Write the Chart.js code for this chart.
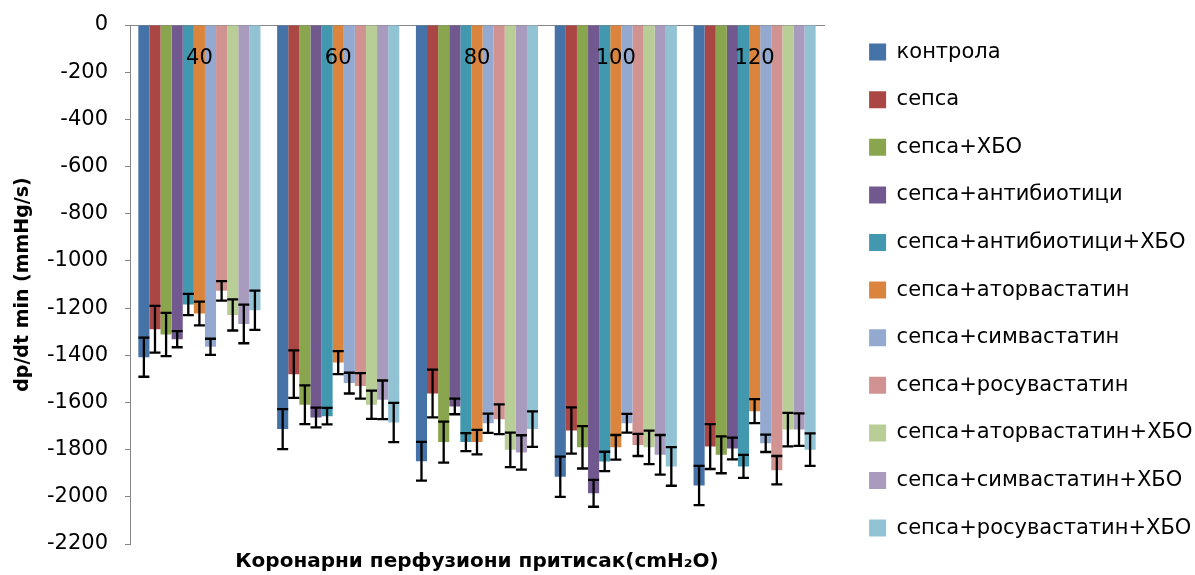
<!DOCTYPE html>
<html>
<head>
<meta charset="utf-8">
<script src="https://cdn.jsdelivr.net/npm/chart.js@4.4.1/dist/chart.umd.min.js"></script>
<style>
  html, body { margin: 0; padding: 0; background: #fff; overflow: hidden; }
  canvas { display: block; }
</style>
</head>
<body>
<canvas id="dpdt-chart" width="1195" height="575"></canvas>
<script>
// coronary perfusion pressures (cmH2O)
const pressures = ['40', '60', '80', '100', '120'];

const groupNames = [
  'контрола', 'сепса', 'сепса+ХБО', 'сепса+антибиотици', 'сепса+антибиотици+ХБО',
  'сепса+аторвастатин', 'сепса+симвастатин', 'сепса+росувастатин',
  'сепса+аторвастатин+ХБО', 'сепса+симвастатин+ХБО', 'сепса+росувастатин+ХБО'
];
const groupColors = [
  '#4572A7', '#AA4643', '#89A54E', '#71588F', '#4198AF',
  '#DB843D', '#93A9CF', '#D19392', '#B9CD96', '#A99BBD', '#92C3D5'
];

// mean dp/dt min per group
const kontrola      = [-1408, -1713, -1849, -1915, -1952];
const sepsa         = [-1290, -1480, -1562, -1719, -1787];
const sepsaHbo      = [-1312, -1610, -1768, -1790, -1822];
const antib         = [-1332, -1664, -1617, -1985, -1795];
const antibHbo      = [-1185, -1658, -1768, -1850, -1871];
const atorva        = [-1223, -1431, -1768, -1790, -1637];
const simva         = [-1364, -1518, -1688, -1688, -1773];
const rosuva        = [-1127, -1530, -1671, -1780, -1887];
const atorvaHbo     = [-1229, -1610, -1801, -1790, -1715];
const simvaHbo      = [-1267, -1589, -1812, -1822, -1715];
const rosuvaHbo     = [-1209, -1685, -1713, -1871, -1800];

// error (± SE) per group
const kontrolaErr   = [83, 85, 82, 85, 83];
const sepsaErr      = [99, 101, 101, 98, 95];
const sepsaHboErr   = [92, 82, 87, 90, 78];
const antibErr      = [34, 42, 33, 57, 46];
const antibHboErr   = [45, 35, 38, 41, 49];
const atorvaErr     = [50, 49, 52, 52, 51];
const simvaErr      = [34, 44, 41, 40, 37];
const rosuvaErr     = [41, 54, 63, 47, 60];
const atorvaHboErr  = [66, 60, 73, 71, 71];
const simvaHboErr   = [82, 82, 73, 84, 69];
const rosuvaHboErr  = [83, 83, 75, 82, 69];

const yMin = -2200, yMax = 0, yStep = 200;

const allValues = [kontrola, sepsa, sepsaHbo, antib, antibHbo, atorva, simva, rosuva, atorvaHbo, simvaHbo, rosuvaHbo];
const allErrors = [kontrolaErr, sepsaErr, sepsaHboErr, antibErr, antibHboErr, atorvaErr, simvaErr, rosuvaErr, atorvaHboErr, simvaHboErr, rosuvaHboErr];

const FONT = 'DejaVu Sans';
const axisGray = '#868686';

Chart.defaults.font.family = FONT;
Chart.defaults.color = '#000';

// category labels sit just under the zero line, on top of the bars
const zeroLineLabels = {
  id: 'zeroLineLabels',
  afterDatasetsDraw(chart) {
    const ctx = chart.ctx;
    const xScale = chart.scales.x;
    const y0 = chart.scales.y.getPixelForValue(0);
    ctx.save();
    ctx.font = '21px "' + FONT + '"';
    ctx.fillStyle = '#000';
    ctx.textAlign = 'center';
    ctx.textBaseline = 'middle';
    chart.data.labels.forEach((lbl, i) => {
      ctx.fillText(lbl, xScale.getPixelForValue(i), y0 + 34);
    });
    ctx.restore();
  }
};

// draws the ± error whiskers on every bar
const errorBars = {
  id: 'errorBars',
  afterDatasetsDraw(chart) {
    const ctx = chart.ctx;
    const yScale = chart.scales.y;
    ctx.save();
    ctx.strokeStyle = '#000';
    ctx.lineWidth = 2.3;
    chart.data.datasets.forEach((ds, i) => {
      chart.getDatasetMeta(i).data.forEach((bar, j) => {
        const top = yScale.getPixelForValue(ds.data[j] + ds.errors[j]);
        const bottom = yScale.getPixelForValue(ds.data[j] - ds.errors[j]);
        const cap = 5.5;
        ctx.beginPath();
        ctx.moveTo(bar.x, top);
        ctx.lineTo(bar.x, bottom);
        ctx.moveTo(bar.x - cap, top);
        ctx.lineTo(bar.x + cap, top);
        ctx.moveTo(bar.x - cap, bottom);
        ctx.lineTo(bar.x + cap, bottom);
        ctx.stroke();
      });
    });
    ctx.restore();
  }
};

const ctx = document.getElementById('dpdt-chart').getContext('2d');

new Chart(ctx, {
  type: 'bar',
  data: {
    labels: pressures,
    datasets: groupNames.map((name, i) => ({
      label: name,
      data: allValues[i],
      errors: allErrors[i],
      backgroundColor: groupColors[i],
      borderWidth: 0,
      categoryPercentage: 0.88,
      barPercentage: 1.0
    }))
  },
  options: {
    responsive: false,
    animation: false,
    events: [],
    layout: {
      padding: { top: 15, left: 12, right: 0, bottom: 1 }
    },
    plugins: {
      tooltip: { enabled: false },
      legend: {
        position: 'right',
        align: 'start',
        maxWidth: 352.5,
        labels: {
          boxWidth: 17,
          boxHeight: 17,
          padding: 26.6,
          color: '#000',
          font: { family: FONT, size: 21 }
        }
      }
    },
    scales: {
      x: {
        type: 'category',
        position: { y: 0 },
        grid: { display: true, drawOnChartArea: false, drawTicks: false },
        border: { display: true, color: axisGray, width: 1 },
        ticks: { display: false }
      },
      xTitle: {
        type: 'category',
        position: 'bottom',
        labels: pressures,
        grid: { display: false, drawTicks: false },
        border: { display: false },
        ticks: { display: false },
        title: {
          display: true,
          text: 'Коронарни перфузиони притисак(cmH₂O)',
          color: '#000',
          font: { family: FONT, size: 20, weight: 'bold' },
          padding: { top: 2, bottom: 0.5 }
        },
        afterFit: s => { s.height = 30; }
      },
      y: {
        min: yMin,
        max: yMax,
        ticks: {
          stepSize: yStep,
          padding: 17,
          color: '#000',
          font: { family: FONT, size: 21 },
          callback: v => String(v)
        },
        grid: { display: true, drawOnChartArea: false, drawTicks: true, tickLength: 5, color: axisGray },
        border: { display: true, color: axisGray, width: 1 },
        title: {
          display: true,
          text: 'dp/dt min (mmHg/s)',
          color: '#000',
          font: { family: FONT, size: 19, weight: 'bold' },
          padding: { top: 0, bottom: 0 }
        },
        afterFit: s => {
          s.width = 118;
          s.paddingTop = 25;
          s.paddingBottom = 0;
        }
      },
      yRight: {
        type: 'linear',
        position: 'right',
        grid: { display: false, drawTicks: false },
        border: { display: false },
        ticks: { display: false },
        afterFit: s => { s.width = 18.5; }
      }
    }
  },
  plugins: [zeroLineLabels, errorBars]
});
</script>
</body>
</html>
